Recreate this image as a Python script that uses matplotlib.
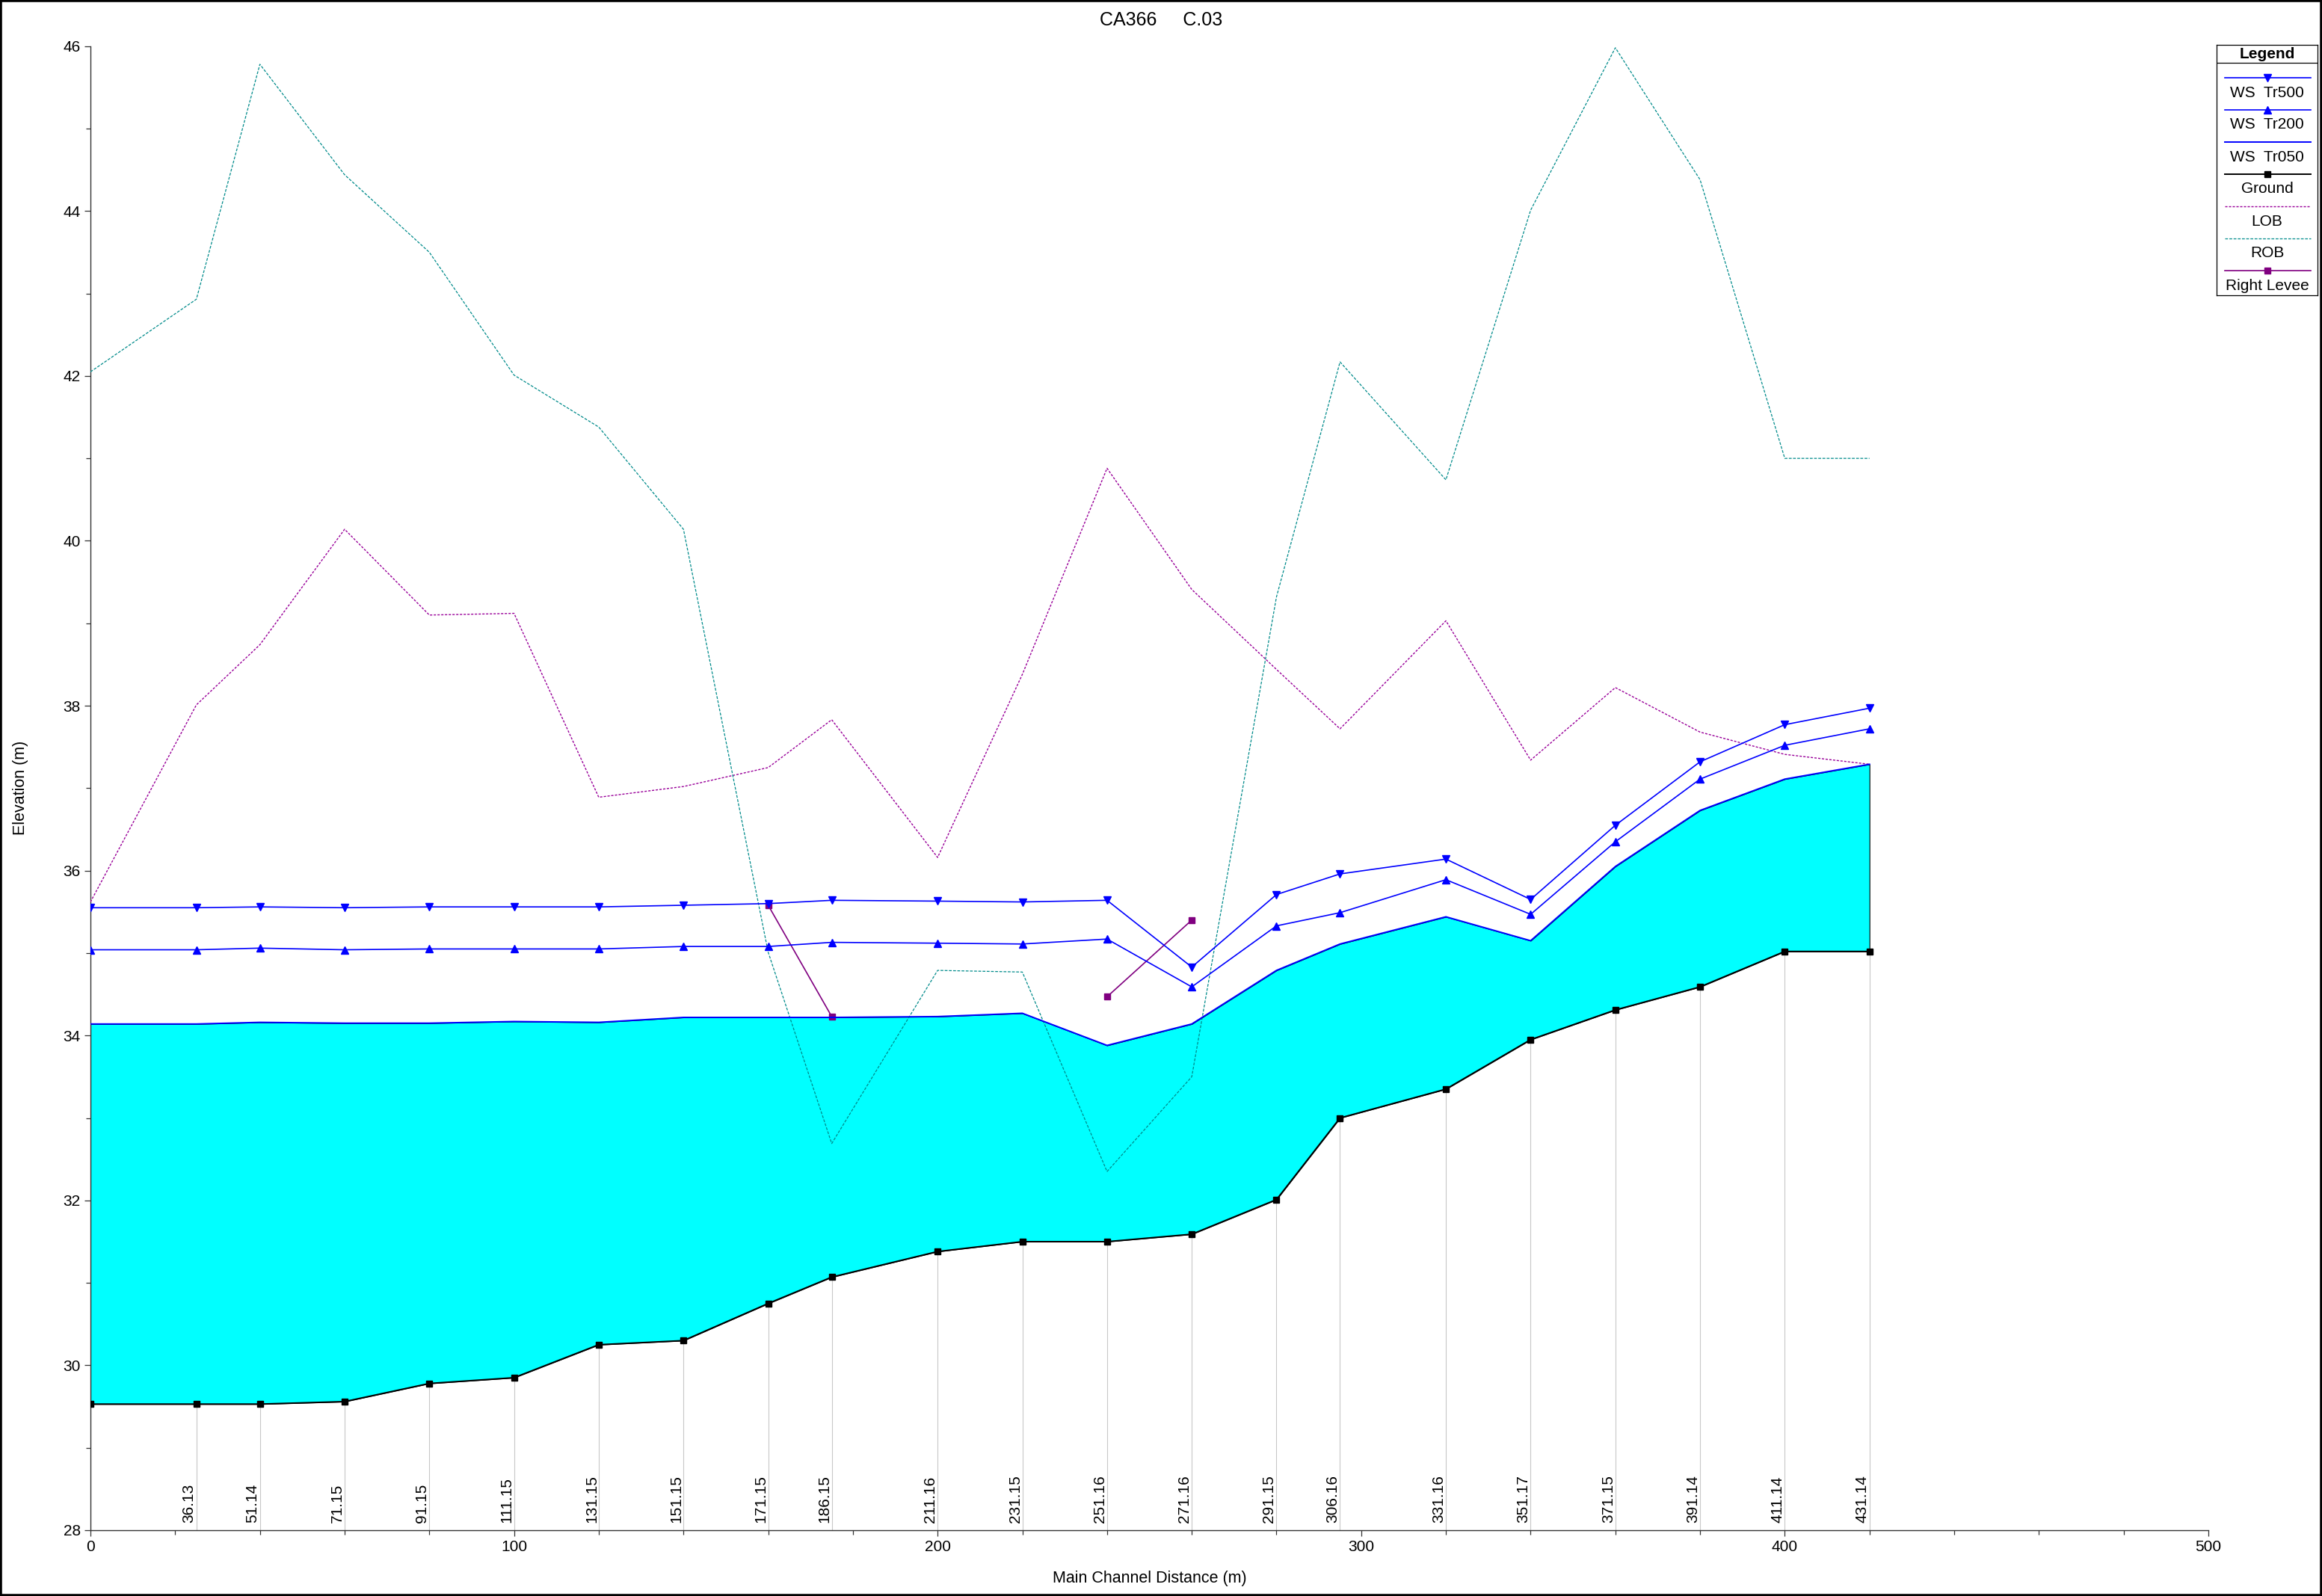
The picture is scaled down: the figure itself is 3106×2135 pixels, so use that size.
import numpy as np
import matplotlib
matplotlib.use("Agg")
import matplotlib.pyplot as plt
from matplotlib.ticker import MultipleLocator
from matplotlib.patches import Rectangle

plt.rcParams['font.family'] = ['Liberation Sans', 'DejaVu Sans']

# river stations along the main channel
dist = [0, 25, 40, 60, 80, 100, 120, 140, 160, 175, 200, 220, 240, 260,
        280, 295, 320, 340, 360, 380, 400, 420]
stations = ['', '36.13', '51.14', '71.15', '91.15', '111.15', '131.15', '151.15',
            '171.15', '186.15', '211.16', '231.15', '251.16', '271.16', '291.15',
            '306.16', '331.16', '351.17', '371.15', '391.14', '411.14', '431.14']

ground = [29.53, 29.53, 29.53, 29.56, 29.78, 29.85, 30.25, 30.30, 30.75, 31.07, 31.38,
          31.50, 31.50, 31.59, 32.01, 33.00, 33.35, 33.95, 34.31, 34.59, 35.02, 35.02]
ws_tr050 = [34.14, 34.14, 34.16, 34.15, 34.15, 34.17, 34.16, 34.22, 34.22, 34.22, 34.23,
            34.27, 33.88, 34.14, 34.79, 35.11, 35.44, 35.15, 36.05, 36.73, 37.11, 37.29]
ws_tr200 = [35.04, 35.04, 35.06, 35.04, 35.05, 35.05, 35.05, 35.08, 35.08, 35.13, 35.12,
            35.11, 35.17, 34.59, 35.33, 35.49, 35.89, 35.47, 36.35, 37.11, 37.52, 37.72]
ws_tr500 = [35.55, 35.55, 35.56, 35.55, 35.56, 35.56, 35.56, 35.58, 35.60, 35.64, 35.63,
            35.62, 35.64, 34.83, 35.71, 35.96, 36.14, 35.65, 36.55, 37.32, 37.77, 37.97]
lob = [35.62, 38.01, 38.74, 40.14, 39.10, 39.12, 36.89, 37.02, 37.25, 37.83, 36.16,
       38.38, 40.88, 39.41, 38.44, 37.72, 39.03, 37.34, 38.22, 37.68, 37.41, 37.29]
rob = [42.05, 42.93, 45.78, 44.44, 43.50, 42.01, 41.38, 40.14, 35.01, 32.69, 34.79,
       34.77, 32.35, 33.50, 39.32, 42.17, 40.74, 44.01, 45.98, 44.38, 41.00, 41.00]
nan = np.nan
right_levee = [nan, nan, nan, nan, nan, nan, nan, nan, 35.58, 34.23, nan,
               nan, 34.47, 35.40, nan, nan, nan, nan, nan, nan, nan, nan]

W, H = 3106, 2135
fig = plt.figure(figsize=(W / 100, H / 100), dpi=100)
ax = fig.add_axes([121 / W, 1 - 2047 / H, (2954 - 121) / W, (2047 - 61.7) / H])

# station lines from the ground down to the axis
ax.vlines(dist, 28, ground, color='#c8c8c8', lw=0.8, zorder=1)
for d, s in zip(dist, stations):
    ax.annotate(s, xy=(d, 28), xytext=(0, 7), textcoords='offset points',
                rotation=90, ha='right', va='bottom', fontsize=15)

ax.fill_between(dist, ground, ws_tr050, facecolor='#00ffff', edgecolor='black',
                lw=0.8, zorder=2)

styles = {
    'WS  Tr500': dict(color='#0000ff', lw=1.2, marker='v', ms=6.5),
    'WS  Tr200': dict(color='#0000ff', lw=1.2, marker='^', ms=6.5),
    'WS  Tr050': dict(color='#0000ff', lw=1.4),
    'Ground': dict(color='black', lw=1.4, marker='s', ms=6),
    'LOB': dict(color='#990099', lw=1.0, ls=(0, (2.2, 1.4))),
    'ROB': dict(color='#008b8b', lw=0.9, ls=(0, (3, 1.5))),
    'Right Levee': dict(color='#800080', lw=1.2, marker='s', ms=6),
}
series = {'WS  Tr500': ws_tr500, 'WS  Tr200': ws_tr200, 'WS  Tr050': ws_tr050,
          'Ground': ground, 'LOB': lob, 'ROB': rob, 'Right Levee': right_levee}
for name in ['LOB', 'ROB', 'Right Levee', 'Ground', 'WS  Tr050', 'WS  Tr200', 'WS  Tr500']:
    ax.plot(dist, series[name], zorder=3, **styles[name])

ax.set_xlim(0, 500)
ax.set_ylim(28, 46)
ax.xaxis.set_major_locator(MultipleLocator(100))
ax.xaxis.set_minor_locator(MultipleLocator(20))
ax.yaxis.set_major_locator(MultipleLocator(2))
ax.yaxis.set_minor_locator(MultipleLocator(1))
ax.tick_params(which='major', length=6, width=0.9, labelsize=15, color='#333333')
ax.tick_params(which='minor', length=4, width=0.9, color='#333333')
for side in ['top', 'right']:
    ax.spines[side].set_visible(False)
for side in ['left', 'bottom']:
    ax.spines[side].set_color('#333333')
    ax.spines[side].set_linewidth(1.0)

fig.text(0.5, 1 - 27 / H, 'CA366     C.03', ha='center', va='center', fontsize=18)
fig.text((121 + 2954) / 2 / W, 1 - 2112 / H, 'Main Channel Distance (m)',
         ha='center', va='center', fontsize=15.5)
fig.text(27 / W, 1 - 1054 / H, 'Elevation (m)', rotation=90,
         ha='center', va='center', fontsize=15.5)

# legend box
lx0, lx1, ly0, ly1 = 2965, 3100, 60, 395
lax = fig.add_axes([lx0 / W, 1 - ly1 / H, (lx1 - lx0) / W, (ly1 - ly0) / H])
lax.set_xlim(lx0, lx1)
lax.set_ylim(ly1, ly0)
lax.set_xticks([])
lax.set_yticks([])
for sp in lax.spines.values():
    sp.set_linewidth(0.9)
lax.text((lx0 + lx1) / 2, 73, 'Legend', ha='center', va='center',
         fontsize=15, fontweight='bold')
lax.axhline(84, color='black', lw=0.9)
names = ['WS  Tr500', 'WS  Tr200', 'WS  Tr050', 'Ground', 'LOB', 'ROB', 'Right Levee']
for i, name in enumerate(names):
    yl = 104 + i * 43
    st = dict(styles[name])
    mk = st.pop('marker', None)
    ms = st.pop('ms', None)
    lax.plot([2976, 3091], [yl, yl], **st)
    if mk:
        lax.plot([(2976 + 3091) / 2], [yl], marker=mk, ms=ms, color=st['color'], ls='none')
    lax.text((lx0 + lx1) / 2, yl + 20, name, ha='center', va='center', fontsize=15)

fig.patches.append(Rectangle((0, 0), 1, 1, transform=fig.transFigure, fill=False,
                             ec='black', lw=4))

fig.savefig('out.png', dpi=100)
